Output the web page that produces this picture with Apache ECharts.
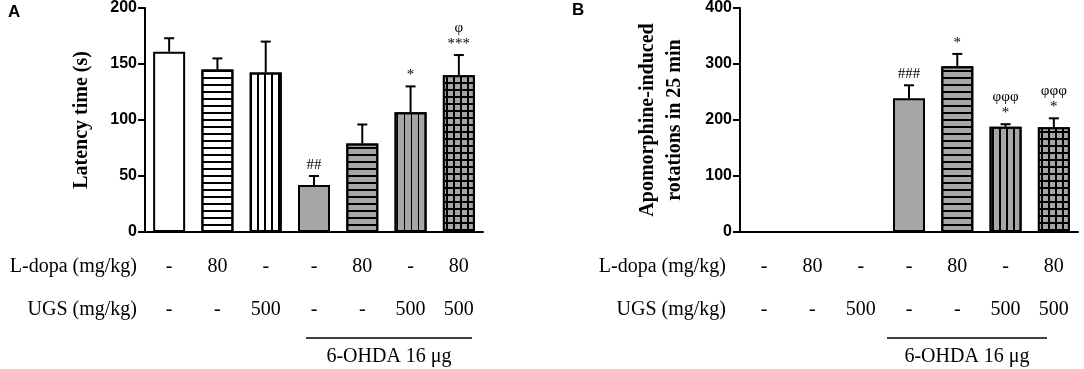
<!DOCTYPE html>
<html>
<head>
<meta charset="utf-8">
<script src="https://cdn.jsdelivr.net/npm/echarts@6/dist/echarts.min.js"></script>
<style>
  html, body { margin: 0; padding: 0; background: #fff; }
  #main { width: 1084px; height: 369px; }
</style>
</head>
<body>
<div id="main"></div>
<script>
// groups (7 bars per panel)
var groups = ['g1', 'g2', 'g3', 'g4', 'g5', 'g6', 'g7'];
var ldopaRow = ['-', '80', '-', '-', '80', '-', '80'];
var ugsRow = ['-', '-', '500', '-', '-', '500', '500'];

// panel A: latency time (s)
var latencyMean = [161, 145, 142.5, 42, 79, 107, 140];
var latencyErr = [173, 155, 170, 50, 96, 130, 158];
var latencyMarks = ['', '', '', '##', '', '*', 'φ\n***'];

// panel B: rotations in 25 min
var rotationMean = [0, 0, 0, 239, 296, 188, 187];
var rotationErr = [null, null, null, 262, 318, 192.5, 203];
var rotationMarks = ['', '', '', '###', '*', 'φφφ\n*', 'φφφ\n*'];

var yTicksA = [0, 200, 50];
var yTicksB = [0, 400, 100];

var GRAY = '#a6a6a6';
var serif = '"Liberation Serif", "Times New Roman", serif';
var sans = '"Liberation Sans", Arial, sans-serif';

// fill pattern of each bar
function barStyle(i) {
  var hl = { symbol: 'rect', symbolSize: 1, dashArrayX: [1, 0], dashArrayY: [1.5, 4.5], color: '#000' };
  var vl = { symbol: 'rect', symbolSize: 1, dashArrayX: [1, 0], dashArrayY: [1.5, 5], rotation: Math.PI / 2, color: '#000' };
  var grid = { symbol: 'rect', symbolSize: 1, dashArrayX: [5, 1.8], dashArrayY: [4.6, 1.8], color: GRAY };
  var s = [
    { color: '#fff' },
    { color: '#fff', decal: hl },
    { color: '#fff', decal: vl },
    { color: GRAY },
    { color: GRAY, decal: hl },
    { color: GRAY, decal: vl },
    { color: '#000', decal: grid }
  ][i];
  s.borderColor = '#000';
  s.borderWidth = 2;
  return s;
}

function barData(vals) {
  return vals.map(function (v, i) { return { value: v, itemStyle: barStyle(i) }; });
}

function errData(means, errs) {
  var out = [];
  means.forEach(function (m, i) { if (errs[i] != null) out.push([i, m, errs[i]]); });
  return out;
}

function errRender(marks) {
  return function (params, api) {
    var i = api.value(0);
    var base = api.coord([i, api.value(1)]);
    var top = api.coord([i, api.value(2)]);
    var x = base[0];
    var st = { stroke: '#000', lineWidth: 2 };
    var kids = [
      { type: 'line', shape: { x1: x, y1: base[1], x2: x, y2: top[1] }, style: st },
      { type: 'line', shape: { x1: x - 5, y1: top[1], x2: x + 5, y2: top[1] }, style: st }
    ];
    var t = marks[i];
    if (t) {
      kids.push({
        type: 'text',
        style: {
          x: x, y: top[1] - 3, text: t, align: 'center', verticalAlign: 'bottom',
          font: '15px ' + serif, lineHeight: 16, fill: '#000'
        }
      });
    }
    return { type: 'group', children: kids };
  };
}

function yAxis(grid, ticks, name, gap) {
  return {
    type: 'value', gridIndex: grid, min: ticks[0], max: ticks[1], interval: ticks[2],
    name: name, nameLocation: 'middle', nameGap: gap,
    nameTextStyle: { fontFamily: serif, fontWeight: 'bold', fontSize: 20, color: '#000', lineHeight: 27 },
    axisLine: { show: true, lineStyle: { color: '#000', width: 2 } },
    axisTick: { show: true, length: 7, lineStyle: { color: '#000', width: 2 } },
    axisLabel: { color: '#000', fontFamily: sans, fontWeight: 'bold', fontSize: 16, margin: 8 },
    splitLine: { show: false }
  };
}

function mainX(grid) {
  return {
    type: 'category', gridIndex: grid, data: groups,
    axisLine: { lineStyle: { color: '#000', width: 2 } },
    axisTick: { alignWithLabel: true, length: 7, lineStyle: { color: '#000', width: 2 } },
    axisLabel: { show: false }
  };
}

function rowX(grid, row, name, offset, gap) {
  return {
    type: 'category', gridIndex: grid, data: row, position: 'bottom', offset: offset,
    name: name, nameLocation: 'start', nameGap: gap,
    nameTextStyle: { fontFamily: serif, fontSize: 20, color: '#000' },
    axisLine: { show: false }, axisTick: { show: false },
    axisLabel: { color: '#000', fontFamily: serif, fontSize: 20, margin: 0, verticalAlign: 'middle', interval: 0 }
  };
}

var chart = echarts.init(document.getElementById('main'), null, { renderer: 'canvas' });

var option = {
  backgroundColor: '#fff',
  animation: false,
  grid: [
    { left: 145, top: 7, width: 338, height: 225 },
    { left: 740, top: 7, width: 338, height: 225 }
  ],
  xAxis: [
    mainX(0),
    rowX(0, ldopaRow, 'L-dopa (mg/kg)', 35, 8),
    rowX(0, ugsRow, 'UGS (mg/kg)', 78, 8),
    mainX(1),
    rowX(1, ldopaRow, 'L-dopa (mg/kg)', 35, 14),
    rowX(1, ugsRow, 'UGS (mg/kg)', 78, 14)
  ],
  yAxis: [
    yAxis(0, yTicksA, 'Latency time (s)', 50),
    yAxis(1, yTicksB, 'Apomorphine-induced\nrotations in 25 min', 52)
  ],
  series: [
    { type: 'bar', xAxisIndex: 0, yAxisIndex: 0, barWidth: 32, data: barData(latencyMean) },
    { type: 'custom', xAxisIndex: 0, yAxisIndex: 0, z: 5, renderItem: errRender(latencyMarks), data: errData(latencyMean, latencyErr) },
    { type: 'bar', xAxisIndex: 3, yAxisIndex: 1, barWidth: 32, data: barData(rotationMean) },
    { type: 'custom', xAxisIndex: 3, yAxisIndex: 1, z: 5, renderItem: errRender(rotationMarks), data: errData(rotationMean, rotationErr) }
  ],
  graphic: [
    { type: 'text', left: 8, top: 4, style: { text: 'A', font: 'bold 17px ' + sans, fill: '#000' } },
    { type: 'text', left: 572, top: 2, style: { text: 'B', font: 'bold 17px ' + sans, fill: '#000' } },
    { type: 'line', shape: { x1: 306, y1: 338, x2: 472, y2: 338 }, style: { stroke: '#000', lineWidth: 1.5 } },
    { type: 'line', shape: { x1: 887, y1: 338, x2: 1047, y2: 338 }, style: { stroke: '#000', lineWidth: 1.5 } },
    { type: 'text', x: 389, y: 357, style: { text: '6-OHDA 16 μg', align: 'center', verticalAlign: 'middle', font: '20px ' + serif, fill: '#000' } },
    { type: 'text', x: 967, y: 357, style: { text: '6-OHDA 16 μg', align: 'center', verticalAlign: 'middle', font: '20px ' + serif, fill: '#000' } }
  ]
};

chart.setOption(option);
</script>
</body>
</html>
